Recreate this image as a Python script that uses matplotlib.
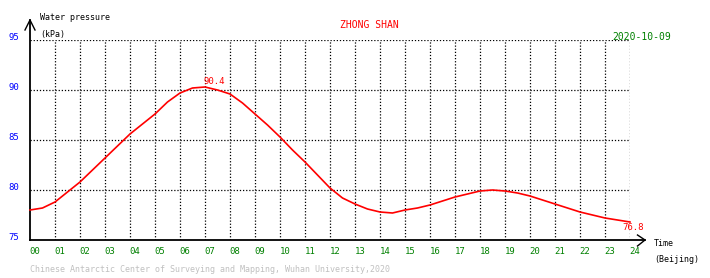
import numpy as np
import matplotlib
matplotlib.use('Agg')
import matplotlib.pyplot as plt

# half-hourly water pressure (kPa)
hours = np.arange(0, 24.5, 0.5)
pressure = [78.0, 78.2, 78.8, 79.8, 80.8, 82.0, 83.2, 84.4, 85.6, 86.6,
            87.6, 88.8, 89.7, 90.2, 90.3, 90.0, 89.6, 88.7, 87.6, 86.5,
            85.3, 84.0, 82.8, 81.5, 80.2, 79.2, 78.6, 78.1, 77.8, 77.7,
            78.0, 78.2, 78.5, 78.9, 79.3, 79.6, 79.9, 80.0, 79.9, 79.7,
            79.4, 79.0, 78.6, 78.2, 77.8, 77.5, 77.2, 77.0, 76.8]
peak_t, peak_v = 6.85, 90.4
last_t, last_v = 24.0, 76.8

xlabels = ['%02d' % h for h in range(25)]
yticks = [75, 80, 85, 90, 95]

mono = 'DejaVu Sans Mono'
W, H = 710, 278
fig = plt.figure(figsize=(W / 100, H / 100), dpi=100)
fig.patch.set_facecolor('white')
ax = fig.add_axes([30 / W, (H - 240) / H, 600 / W, 200 / H])
ax.set_xlim(0, 24)
ax.set_ylim(75, 95)
ax.axis('off')

dots = (0, (1, 1.5))
ax.vlines(range(1, 25), 75, 95, colors='black', linestyles=dots, lw=0.9)
ax.hlines([80, 85, 90, 95], 0, 24, colors='black', linestyles=dots, lw=0.9)

# axes with arrow heads
ax.plot([0, 0], [75, 97], color='black', lw=1.3, clip_on=False)
ax.plot([-0.2, 0, 0.2], [96, 97, 96], color='black', lw=1, clip_on=False)
ax.plot([0, 24.6], [75, 75], color='black', lw=1.3, clip_on=False)
ax.plot([24.3, 24.6, 24.3], [75.5, 75, 74.4], color='black', lw=1, clip_on=False)

ax.plot(hours, pressure, color='red', lw=1.2, clip_on=False)
ax.text(peak_t + 0.5, peak_v + 0.4, '%.1f' % peak_v, color='red', fontsize=6.5,
        family=mono, ha='center', va='center')
ax.text(last_t + 0.12, last_v - 0.5, '%.1f' % last_v, color='red', fontsize=6.5,
        family=mono, ha='center', va='center')

for i, lab in enumerate(xlabels):
    ax.text(i + 0.2, 73.8, lab, color='green', fontsize=6.5, family=mono,
            ha='center', va='center', clip_on=False)
for v in yticks:
    ax.text(-0.44, v + 0.2, str(v), color='blue', fontsize=6.5, family=mono,
            ha='right', va='center', clip_on=False)

def px(x, y, s, **kw):
    fig.text(x / W, 1 - y / H, s, family=mono, va='center', **kw)

px(40, 17, 'Water pressure', fontsize=6, color='black')
px(40, 35, '(kPa)', fontsize=6, color='black')
px(369, 25, 'ZHONG SHAN', fontsize=7, color='red', ha='center')
px(671, 37, '2020-10-09', fontsize=7, color='green', ha='right')
px(654, 244, 'Time', fontsize=6, color='black')
px(654, 260, '(Beijing)', fontsize=6, color='black')
px(30, 270, 'Chinese Antarctic Center of Surveying and Mapping, Wuhan University,2020',
   fontsize=6, color='#c0c0c0')

fig.savefig('out.png', dpi=100)
